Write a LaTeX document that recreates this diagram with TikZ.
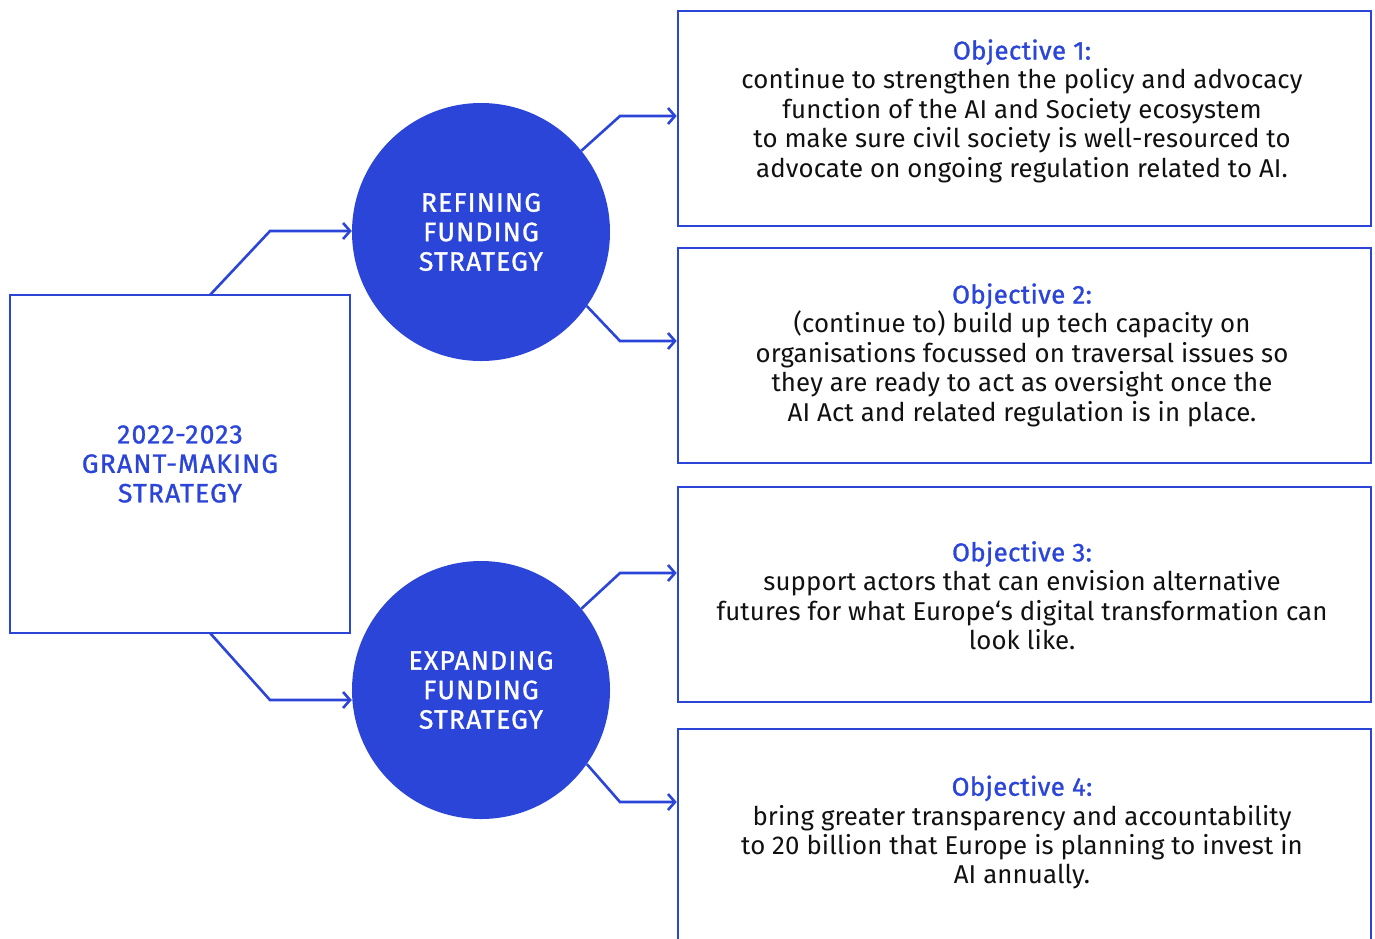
\documentclass[tikz,border=0pt]{standalone}
\usepackage{fontspec}
\setmainfont{Fira Sans}[LetterSpace=0.5]
\newfontfamily\medfont[FakeBold=1.1,LetterSpace=1.5]{Fira Sans}
\newfontfamily\capfont[FakeBold=1.1,LetterSpace=4.5]{Fira Sans}
\usetikzlibrary{arrows.meta,calc}
\definecolor{myblue}{RGB}{43,69,217}
\definecolor{ink}{RGB}{17,17,17}
\tikzset{
  box/.style={draw=myblue, line width=2.6pt, inner sep=0pt, fill=white},
  disc/.style={circle, fill=myblue, inner sep=0pt, minimum size=258pt},
  conn/.style={draw=myblue, line width=2.6pt, line join=miter, -{Straight Barb[length=7pt,width=16pt,line width=2.6pt]}},
  disclabel/.style={text=white, align=center, font=\capfont\fontsize{26.5}{29.5}\selectfont},
  mainlabel/.style={text=myblue, align=center, font=\capfont\fontsize{26.5}{29.5}\selectfont},
  body/.style={text=ink, align=center, font=\fontsize{25.8}{29.4}\selectfont},
}
\newcommand{\objhead}[1]{{\color{myblue}\medfont #1}}
\begin{document}
\begin{tikzpicture}[x=1pt,y=-1pt]
\useasboundingbox (0,0) rectangle (1375,938);
\clip (0,0) rectangle (1375,938);
\fill[white] (0,0) rectangle (1375,938);

% left box
\node[box, minimum width=340pt, minimum height=338pt] (lb) at (180,464) {};
\node[mainlabel] (lbt) at (180,464) {2022-2023\\GRANT-MAKING\\STRATEGY};

% circles
\node[disc] (c1) at (481,232) {};
\node[disclabel] (c1t) at (481,232) {REFINING\\FUNDING\\STRATEGY};
\node[disc] (c2) at (481,690) {};
\node[disclabel] (c2t) at (481,690) {EXPANDING\\FUNDING\\STRATEGY};

% objective boxes
\node[box, minimum width=693pt, minimum height=215pt] (b1) at (1024.5,118.5) {};
\node[box, minimum width=693pt, minimum height=215pt] (b2) at (1024.5,355.5) {};
\node[box, minimum width=693pt, minimum height=215pt] (b3) at (1024.5,594.5) {};
\node[box, minimum width=693pt, minimum height=215pt] (b4) at (1024.5,836.5) {};

\node[body] (t1) at (1022,111) {\objhead{Objective 1:}\\continue to strengthen the policy and advocacy\\function of the AI and Society ecosystem\\to make sure civil society is well-resourced to\\advocate on ongoing regulation related to AI.};
\node[body] (t2) at (1022,355) {\objhead{Objective 2:}\\(continue to) build up tech capacity on\\organisations focussed on traversal issues so\\they are ready to act as oversight once the\\AI Act and related regulation is in place.};
\node[body] (t3) at (1022,595.5) {\objhead{Objective 3:}\\support actors that can envision alternative\\futures for what Europe‘s digital transformation can\\look like.};
\node[body] (t4) at (1022,832.5) {\objhead{Objective 4:}\\bring greater transparency and accountability\\to 20 billion that Europe is planning to invest in\\AI annually.};

% connectors from left box
\coordinate (s1) at (210,295);
\coordinate (k1) at (270,231);
\coordinate (s2) at (210,633);
\coordinate (k2) at (270,700);
\draw[conn] (s1) -- (k1) -- (k1 -| c1.west);
\draw[conn] (s2) -- (k2) -- (k2 -| c2.west);

% connectors from circles
\coordinate (k3) at (620,116);
\coordinate (k4) at (620,341);
\coordinate (k5) at (620,573);
\coordinate (k6) at (620,802);
\draw[conn] (c1.39) -- (k3) -- (k3 -| b1.west);
\draw[conn] (c1.-35) -- (k4) -- (k4 -| b2.west);
\draw[conn] (c2.39) -- (k5) -- (k5 -| b3.west);
\draw[conn] (c2.-35) -- (k6) -- (k6 -| b4.west);
\end{tikzpicture}
\end{document}
